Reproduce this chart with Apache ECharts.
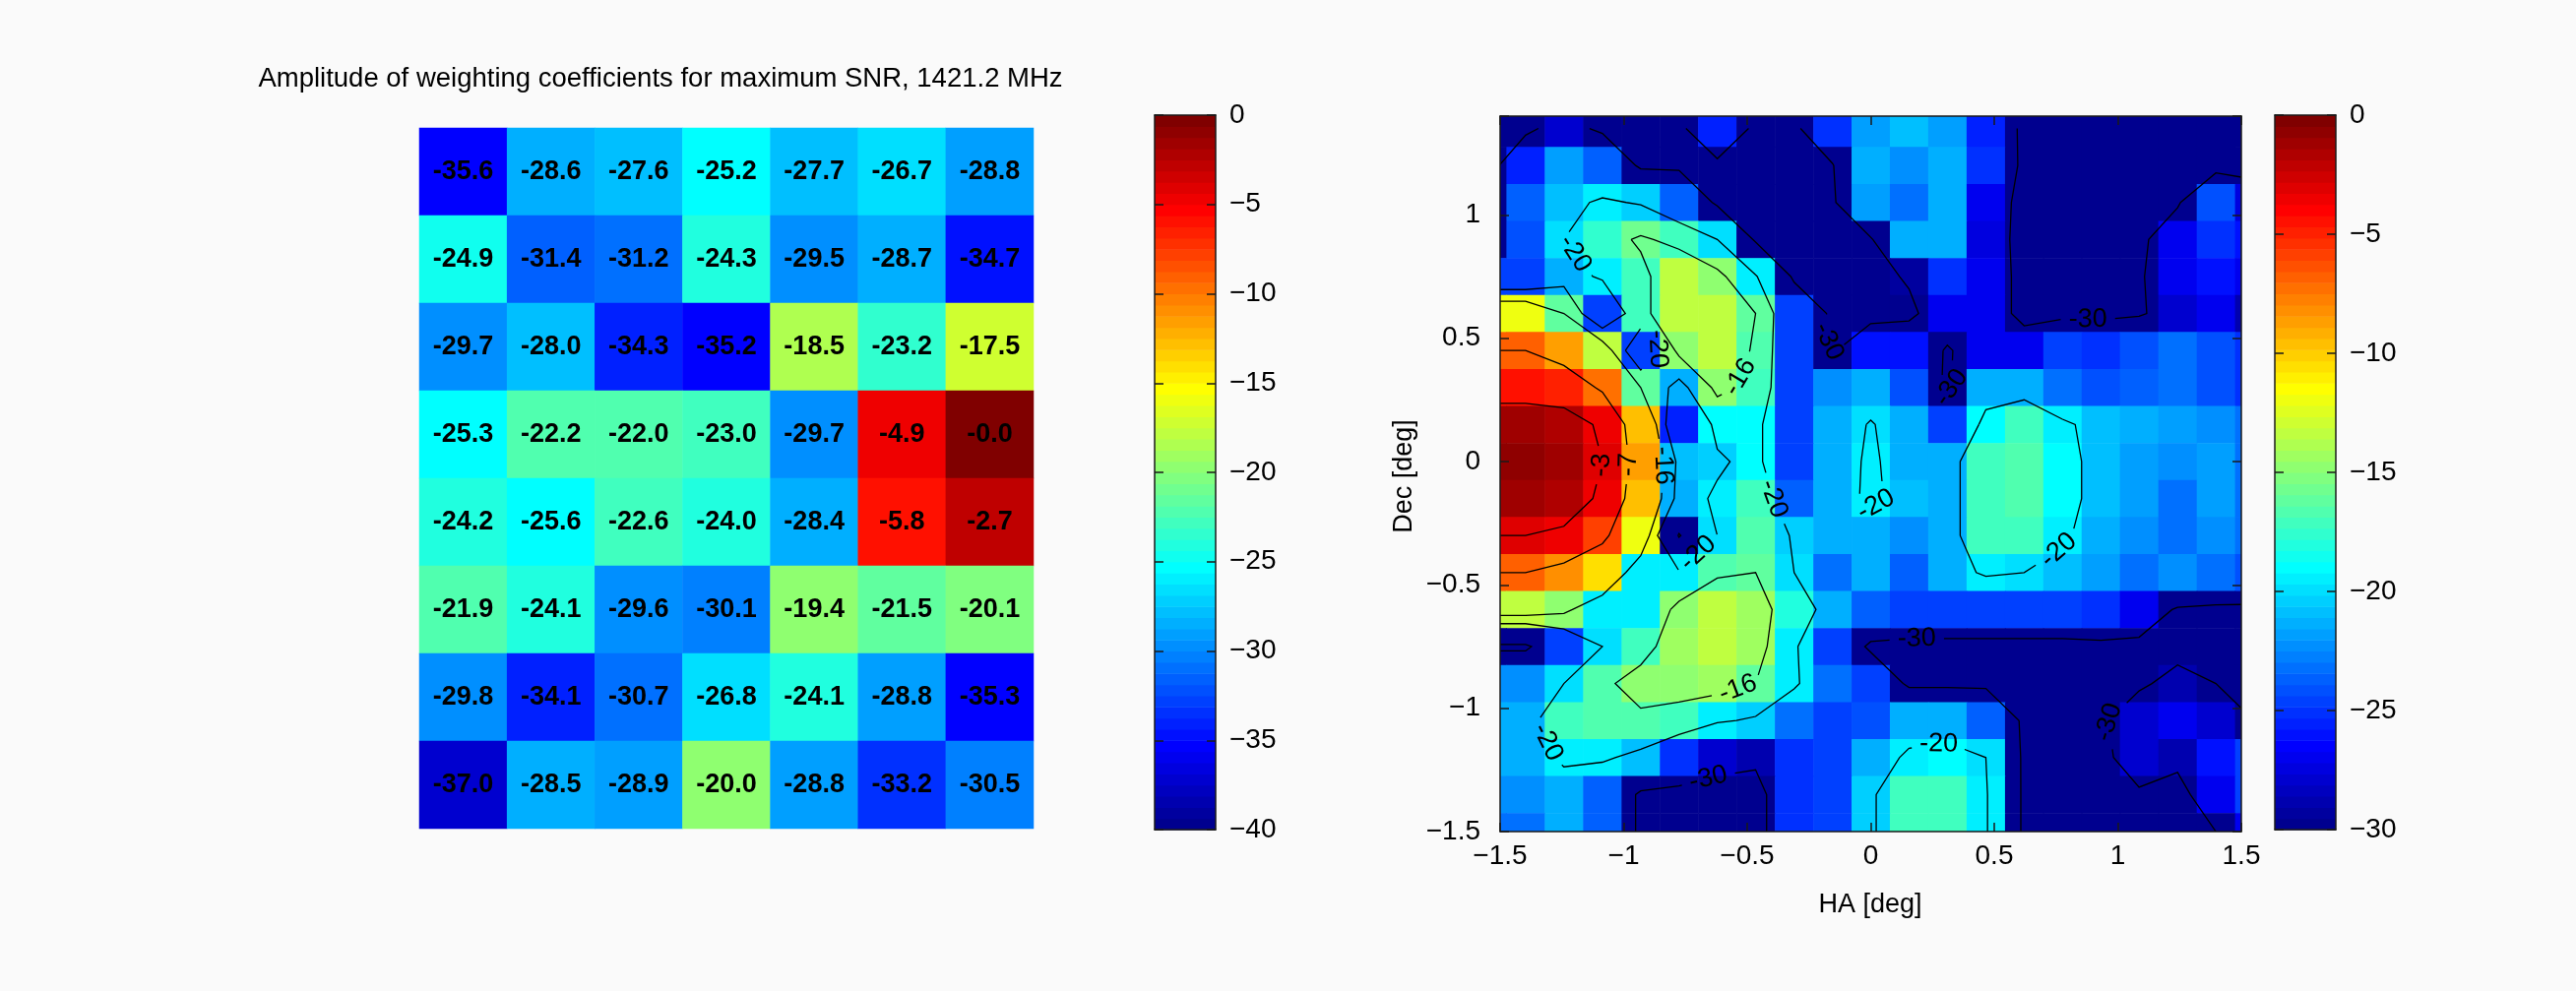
<!DOCTYPE html>
<html>
<head>
<meta charset="utf-8">
<title>Beam weights and beam pattern</title>
<script src="https://cdn.jsdelivr.net/npm/echarts@6/dist/echarts.min.js"></script>
<style>
html, body { margin: 0; padding: 0; background: #fafafa; }
#chart { width: 2617px; height: 1007px; }
</style>
</head>
<body>
<div id="chart"></div>
<script>
// Left panel: amplitude of the element weights in dB, top row first (8 rows x 7 columns)
const weightRows = [
  [-35.6, -28.6, -27.6, -25.2, -27.7, -26.7, -28.8],
  [-24.9, -31.4, -31.2, -24.3, -29.5, -28.7, -34.7],
  [-29.7, -28.0, -34.3, -35.2, -18.5, -23.2, -17.5],
  [-25.3, -22.2, -22.0, -23.0, -29.7, -4.9, -0.0],
  [-24.2, -25.6, -22.6, -24.0, -28.4, -5.8, -2.7],
  [-21.9, -24.1, -29.6, -30.1, -19.4, -21.5, -20.1],
  [-29.8, -34.1, -30.7, -26.8, -24.1, -28.8, -35.3],
  [-37.0, -28.5, -28.9, -20.0, -28.8, -33.2, -30.5]
];
const weightRange = [-40, 0];

// Right panel: beam response in dB on an HA x Dec grid (cell centres, degrees)
const haDeg = [-1.552, -1.397, -1.242, -1.086, -0.931, -0.776, -0.621, -0.466, -0.310, -0.155, 0,
               0.155, 0.310, 0.466, 0.621, 0.776, 0.931, 1.086, 1.242, 1.397, 1.552];
const decDeg = [1.35, 1.2, 1.05, 0.9, 0.75, 0.6, 0.45, 0.3, 0.15, 0, -0.15, -0.3, -0.45, -0.6, -0.75,
                -0.9, -1.05, -1.2, -1.35, -1.5];
// one row per Dec value (top to bottom), one entry per HA value (left to right)
const beamDb = [
  [-32, -31, -28, -31, -31, -31, -25.5, -31, -31, -25, -22, -21, -22, -25.5, -31, -31, -31, -32, -31.5, -31.5, -31.5],
  [-32, -25.5, -22, -23.5, -31, -31, -31, -31, -31.5, -30.3, -21.5, -22.5, -21.5, -25, -31, -31, -31, -31.5, -31.5, -31.5, -31.5],
  [-32, -23.5, -21, -19.5, -20.3, -23.5, -31, -31.5, -32, -30.8, -22, -23, -21.5, -27, -31.5, -31, -31, -31.5, -30.5, -24, -27.5],
  [-31.5, -24, -20, -17.5, -15.5, -17, -20, -30.8, -32, -32, -30.5, -21.5, -21.5, -27.5, -31.5, -31, -30.5, -31, -27, -25, -26],
  [-24.5, -24.5, -21.5, -19.5, -17, -13.2, -15, -19.5, -31, -31.5, -31.5, -29.5, -25, -27, -31.5, -31, -30.5, -30.5, -27, -26, -27],
  [-11.8, -11.8, -16, -24.5, -17, -13.2, -13.2, -16, -24.5, -31, -31.5, -31, -27, -27, -31.5, -31, -31, -30.5, -28, -27, -29],
  [-7, -7, -8.5, -13.2, -24.5, -15, -13.2, -16.5, -24.5, -30.5, -26, -26, -30.5, -27, -27, -24.5, -25, -24, -23, -24, -25],
  [-4.5, -4.5, -4.8, -7.5, -16, -21.5, -15, -17, -24.5, -22.5, -21.5, -24, -31, -21.5, -21.5, -23, -24, -23.5, -23, -24, -25],
  [-1, -1, -1.5, -3.5, -9.5, -25.5, -19, -19, -24.5, -21.5, -19.8, -21.5, -24.5, -19, -17, -19.5, -21, -21.5, -22, -22.5, -23],
  [-0.5, -0.5, -1, -3, -8.8, -21, -20.5, -19, -24.5, -21.5, -19.5, -21.5, -21.5, -17, -16.8, -19, -21, -22, -22.5, -22, -23],
  [-1, -1, -1.5, -3.5, -9.5, -21.5, -19.5, -17, -23.5, -21.2, -19.5, -21, -21.5, -17, -16.5, -19, -21, -22, -23, -22, -23],
  [-3, -3, -3.5, -6, -11.8, -30.5, -20, -16.5, -20.5, -21.5, -21.2, -22.5, -21.5, -17, -17, -19.5, -21.5, -22.5, -23, -22.5, -23],
  [-7, -7, -8.2, -10.5, -19.5, -19.5, -16.5, -16, -20, -23, -21.5, -23.5, -21.5, -19.5, -20, -21, -22, -23, -22.5, -23, -24],
  [-13.2, -13.2, -15, -19.5, -19.5, -15, -13.2, -14.5, -18, -21.5, -23.5, -24.5, -24.5, -24.5, -24.5, -24.5, -25, -27, -30.5, -31, -31],
  [-31, -31, -24.5, -20, -17, -14.5, -13.2, -14.5, -19.5, -24.5, -31, -31.5, -31.5, -31.5, -31.5, -31.5, -31, -31, -31, -31, -31],
  [-22.5, -22.5, -20, -16.5, -15, -15, -14.5, -16, -19.5, -23, -24.5, -31, -31, -31, -31, -31, -31, -30.5, -29, -30, -31],
  [-21.5, -21.5, -17, -16.5, -16.5, -17, -19.5, -20.5, -23, -24.5, -24, -21.5, -21.5, -23.5, -31, -31, -30.5, -28, -27, -28, -30],
  [-21.5, -21.5, -19.5, -19.5, -21, -25, -28, -29, -25, -24.5, -21.5, -19.5, -19, -20, -31, -31, -31, -28, -29, -26, -24.5],
  [-22.5, -22.5, -21.5, -23.5, -31, -31.5, -32, -32, -25, -24.5, -20.5, -17, -17, -19.5, -31, -31, -31, -30.5, -31.5, -27, -24.5],
  [-23, -23, -21.5, -23.5, -31, -31.5, -32, -32, -25, -24.5, -20.5, -17, -17, -19.5, -31, -31, -31, -31, -32, -30, -27]
];
const beamRange = [-30, 0];
const contourLevels = [-30, -20, -16, -7, -3];
const haLimits = [-1.5, 1.5];
const decLimits = [-1.5, 1.4];

const FONT = '"Liberation Sans", Arial, Helvetica, sans-serif';
const MINUS = '\u2212';

// MATLAB-style jet colormap with 64 entries
function makeJet(m) {
  const n = Math.ceil(m / 4);
  const u = [];
  for (let i = 1; i <= n; i++) u.push(i / n);
  for (let i = 1; i < n; i++) u.push(1);
  for (let i = n; i >= 1; i--) u.push(i / n);
  const g0 = Math.ceil(n / 2) - (m % 4 === 1 ? 1 : 0);
  const cols = Array.from({ length: m }, () => [0, 0, 0]);
  for (let k = 0; k < u.length; k++) {
    const g = g0 + k + 1, r = g + n, b = g - n;
    if (r >= 1 && r <= m) cols[r - 1][0] = u[k];
    if (g >= 1 && g <= m) cols[g - 1][1] = u[k];
    if (b >= 1 && b <= m) cols[b - 1][2] = u[k];
  }
  return cols.map(c => 'rgb(' + c.map(v => Math.round(v * 255)).join(',') + ')');
}
const JET = makeJet(64);
function jetIndex(v, range) {
  const i = Math.floor((v - range[0]) / (range[1] - range[0]) * JET.length);
  return Math.max(0, Math.min(JET.length - 1, i));
}

// cell edges from the centre coordinates
function edgesOf(centres) {
  const e = [];
  for (let i = 0; i <= centres.length; i++) {
    if (i === 0) e.push(centres[0] - (centres[1] - centres[0]) / 2);
    else if (i === centres.length) e.push(centres[i - 1] + (centres[i - 1] - centres[i - 2]) / 2);
    else e.push((centres[i - 1] + centres[i]) / 2);
  }
  return e;
}
const haEdges = edgesOf(haDeg);
const decEdges = edgesOf(decDeg);

// marching squares on the beam grid, joined into polylines
function contourPaths(z, xs, ys, level) {
  const R = z.length, C = z[0].length;
  const pts = {};
  const segs = [];
  function ep(id, r1, c1, r2, c2) {
    if (!pts[id]) {
      const a = z[r1][c1], b = z[r2][c2];
      const t = (level - a) / (b - a);
      pts[id] = [xs[c1] + (xs[c2] - xs[c1]) * t, ys[r1] + (ys[r2] - ys[r1]) * t];
    }
    return id;
  }
  for (let r = 0; r < R - 1; r++) {
    for (let c = 0; c < C - 1; c++) {
      const tl = z[r][c], tr = z[r][c + 1], br = z[r + 1][c + 1], bl = z[r + 1][c];
      const idx = (tl > level ? 8 : 0) | (tr > level ? 4 : 0) | (br > level ? 2 : 0) | (bl > level ? 1 : 0);
      if (idx === 0 || idx === 15) continue;
      const T = () => ep('h' + r + '_' + c, r, c, r, c + 1);
      const Rt = () => ep('v' + r + '_' + (c + 1), r, c + 1, r + 1, c + 1);
      const B = () => ep('h' + (r + 1) + '_' + c, r + 1, c, r + 1, c + 1);
      const L = () => ep('v' + r + '_' + c, r, c, r + 1, c);
      const centreHigh = (tl + tr + br + bl) / 4 > level;
      switch (idx) {
        case 1: case 14: segs.push([L(), B()]); break;
        case 2: case 13: segs.push([B(), Rt()]); break;
        case 3: case 12: segs.push([L(), Rt()]); break;
        case 4: case 11: segs.push([T(), Rt()]); break;
        case 6: case 9: segs.push([T(), B()]); break;
        case 7: case 8: segs.push([L(), T()]); break;
        case 5:
          if (centreHigh) { segs.push([L(), T()]); segs.push([B(), Rt()]); }
          else { segs.push([T(), Rt()]); segs.push([L(), B()]); }
          break;
        case 10:
          if (centreHigh) { segs.push([T(), Rt()]); segs.push([L(), B()]); }
          else { segs.push([L(), T()]); segs.push([B(), Rt()]); }
          break;
      }
    }
  }
  const adj = {};
  segs.forEach((s, i) => { s.forEach(id => { (adj[id] = adj[id] || []).push(i); }); });
  const used = new Array(segs.length).fill(false);
  const lines = [];
  function walk(startSeg, startId) {
    const ids = [startId];
    let seg = startSeg, cur = startId;
    while (seg !== -1 && !used[seg]) {
      used[seg] = true;
      const nxt = segs[seg][0] === cur ? segs[seg][1] : segs[seg][0];
      ids.push(nxt);
      cur = nxt;
      const cand = (adj[cur] || []).filter(i => !used[i]);
      seg = cand.length ? cand[0] : -1;
    }
    return ids;
  }
  // open lines start at an end point, closed loops anywhere
  Object.keys(adj).forEach(id => {
    if (adj[id].length === 1 && !used[adj[id][0]]) lines.push(walk(adj[id][0], id));
  });
  segs.forEach((s, i) => { if (!used[i]) lines.push(walk(i, s[0])); });
  return lines.map(ids => ids.map(id => pts[id]));
}

const contours = [];
contourLevels.forEach(lv => {
  contourPaths(beamDb, haDeg, decDeg, lv).forEach(p => contours.push({ level: lv, pts: p }));
});

// layout of the four plotting areas
const grids = [
  { left: 426, top: 130, width: 624, height: 712 },   // element weights
  { left: 1173, top: 117, width: 62, height: 726 },   // weights colour bar
  { left: 1524, top: 118, width: 753, height: 727 },  // beam map
  { left: 2311, top: 117, width: 62, height: 726 }    // beam colour bar
];

function signed(v) {
  return String(v).replace('-', MINUS);
}

const AX_COL = '#1a1a1a';
const boxLine = { onZero: false, lineStyle: { color: AX_COL, width: 1.5 } };
const inTick = { inside: true, length: 9, lineStyle: { color: AX_COL, width: 1.5 } };

function barAxes(gi, range) {
  return {
    x: [
      { gridIndex: gi, type: 'value', min: 0, max: 1, position: 'bottom', z: 10,
        axisLine: boxLine, axisTick: { show: false }, axisLabel: { show: false }, splitLine: { show: false } },
      { gridIndex: gi, type: 'value', min: 0, max: 1, position: 'top', z: 10,
        axisLine: boxLine, axisTick: { show: false }, axisLabel: { show: false }, splitLine: { show: false } }
    ],
    y: [
      { gridIndex: gi, type: 'value', min: range[0], max: range[1], interval: 5, position: 'right', z: 10,
        axisLine: boxLine, axisTick: inTick,
        axisLabel: { margin: 14, color: '#000', fontSize: 28, fontFamily: FONT, formatter: v => signed(v) },
        splitLine: { show: false } },
      { gridIndex: gi, type: 'value', min: range[0], max: range[1], interval: 5, position: 'left', z: 10,
        axisLine: boxLine, axisTick: inTick, axisLabel: { show: false }, splitLine: { show: false } }
    ]
  };
}
const bar1 = barAxes(1, weightRange);
const bar2 = barAxes(3, beamRange);

function tickText(v) {
  if (Math.abs(v * 2 - Math.round(v * 2)) > 1e-6) return '';
  return signed(v);
}

const xAxes = [
  { gridIndex: 0, type: 'category', data: weightRows[0].map((_, i) => i), show: false },
  bar1.x[0], bar1.x[1],
  { gridIndex: 2, type: 'value', min: haLimits[0], max: haLimits[1], interval: 0.5, position: 'bottom', z: 10,
    axisLine: boxLine, axisTick: inTick, splitLine: { show: false },
    axisLabel: { margin: 11, color: '#000', fontSize: 28, fontFamily: FONT, formatter: tickText } },
  { gridIndex: 2, type: 'value', min: haLimits[0], max: haLimits[1], interval: 0.5, position: 'top', z: 10,
    axisLine: boxLine, axisTick: inTick, splitLine: { show: false }, axisLabel: { show: false } },
  bar2.x[0], bar2.x[1]
];
const yAxes = [
  { gridIndex: 0, type: 'category', data: weightRows.map((_, i) => i), inverse: true, show: false },
  bar1.y[0], bar1.y[1],
  { gridIndex: 2, type: 'value', min: decLimits[0], max: decLimits[1], interval: 0.5, position: 'left', z: 10,
    axisLine: boxLine, axisTick: inTick, splitLine: { show: false },
    axisLabel: { margin: 20, color: '#000', fontSize: 28, fontFamily: FONT, formatter: tickText } },
  { gridIndex: 2, type: 'value', min: decLimits[0], max: decLimits[1], interval: 0.5, position: 'right', z: 10,
    axisLine: boxLine, axisTick: inTick, splitLine: { show: false }, axisLabel: { show: false } },
  bar2.y[0], bar2.y[1]
];

// heatmap cells for the weights
const weightData = [];
weightRows.forEach((row, r) => row.forEach((v, c) => weightData.push([c, r, v])));

// beam cells
const beamData = [];
beamDb.forEach((row, r) => row.forEach((v, c) => beamData.push([haDeg[c], decDeg[r], v, c, r])));

function colourBarData(range) {
  const out = [];
  const step = (range[1] - range[0]) / JET.length;
  for (let i = 0; i < JET.length; i++) {
    const lo = range[0] + i * step;
    out.push([0.5, lo + step / 2, i, lo, lo + step]);
  }
  return out;
}
function renderBar(params, api) {
  const i = api.value(2);
  const p0 = api.coord([0, api.value(3)]);
  const p1 = api.coord([1, api.value(4)]);
  return {
    type: 'rect',
    shape: { x: p0[0], y: p1[1], width: p1[0] - p0[0], height: p0[1] - p1[1] + 0.6 },
    style: { fill: JET[i] }
  };
}

function clampTo(v, lim) { return Math.max(lim[0], Math.min(lim[1], v)); }
function renderBeamCell(params, api) {
  const c = api.value(3), r = api.value(4), v = api.value(2);
  const x0 = clampTo(haEdges[c], haLimits), x1 = clampTo(haEdges[c + 1], haLimits);
  const yA = clampTo(decEdges[r], decLimits), yB = clampTo(decEdges[r + 1], decLimits);
  const pA = api.coord([x0, yA]);
  const pB = api.coord([x1, yB]);
  const x = Math.min(pA[0], pB[0]), y = Math.min(pA[1], pB[1]);
  return {
    type: 'rect',
    shape: { x: x, y: y, width: Math.abs(pB[0] - pA[0]) + 0.6, height: Math.abs(pB[1] - pA[1]) + 0.6 },
    style: { fill: JET[jetIndex(v, beamRange)] }
  };
}

const LABEL_SIZE = 27;
function renderContour(params, api) {
  const item = contours[api.value(2)];
  const pts = item.pts.map(p => api.coord(p));
  const lo = api.coord([haLimits[0], decLimits[0]]);
  const hi = api.coord([haLimits[1], decLimits[1]]);
  const cum = [0];
  for (let i = 1; i < pts.length; i++) {
    cum.push(cum[i - 1] + Math.hypot(pts[i][0] - pts[i - 1][0], pts[i][1] - pts[i - 1][1]));
  }
  const L = cum[cum.length - 1];
  function at(s) {
    s = Math.max(0, Math.min(L, s));
    let i = 1;
    while (i < cum.length - 1 && cum[i] < s) i++;
    const seg = cum[i] - cum[i - 1] || 1;
    const t = (s - cum[i - 1]) / seg;
    return [pts[i - 1][0] + (pts[i][0] - pts[i - 1][0]) * t, pts[i - 1][1] + (pts[i][1] - pts[i - 1][1]) * t];
  }
  const text = String(item.level);
  const tw = text.length * LABEL_SIZE * 0.56;
  const inside = p => p[0] > lo[0] + tw / 2 && p[0] < hi[0] - tw / 2 && p[1] > hi[1] + tw / 2 && p[1] < lo[1] - tw / 2;
  const labels = [];
  if (L > tw * 2.3) {
    const n = Math.max(1, Math.floor(L / 380));
    for (let k = 0; k < n; k++) {
      let s = (k + 0.5) * L / n;
      // slide along the line until the label sits inside the plot
      let ok = inside(at(s));
      for (let d = 10; !ok && d < L / (2 * n); d += 10) {
        if (inside(at(s + d))) { s += d; ok = true; }
        else if (inside(at(s - d))) { s -= d; ok = true; }
      }
      if (ok) labels.push(s);
    }
  }
  const gaps = labels.map(s => [s - tw / 2 - 5, s + tw / 2 + 5]).sort((a, b) => a[0] - b[0]);
  const visible = [];
  let start = 0;
  gaps.forEach(g => { if (g[0] > start) visible.push([start, g[0]]); start = Math.max(start, g[1]); });
  if (start < L) visible.push([start, L]);
  const children = [];
  visible.forEach(([a, b]) => {
    const line = [at(a)];
    for (let i = 0; i < cum.length; i++) if (cum[i] > a && cum[i] < b) line.push(pts[i]);
    line.push(at(b));
    children.push({ type: 'polyline', shape: { points: line }, style: { stroke: '#000', lineWidth: 1.3, fill: null } });
  });
  labels.forEach(s => {
    const p = at(s);
    const q0 = at(s - tw / 2), q1 = at(s + tw / 2);
    let ang = Math.atan2(q1[1] - q0[1], q1[0] - q0[0]);
    if (ang > Math.PI / 2) ang -= Math.PI;
    if (ang < -Math.PI / 2) ang += Math.PI;
    children.push({
      type: 'text', x: p[0], y: p[1], rotation: -ang,
      style: { text: text, fill: '#000', fontSize: LABEL_SIZE, fontFamily: FONT, align: 'center', verticalAlign: 'middle' }
    });
  });
  return { type: 'group', children: children };
}

const chart = echarts.init(document.getElementById('chart'), null, { renderer: 'canvas', width: 2617, height: 1007 });

const weightPieces = JET.map((col, i) => {
  const step = (weightRange[1] - weightRange[0]) / JET.length;
  const piece = { color: col };
  if (i > 0) piece.gte = weightRange[0] + i * step;
  if (i < JET.length - 1) piece.lt = weightRange[0] + (i + 1) * step;
  return piece;
});

chart.setOption({
  animation: false,
  backgroundColor: '#fafafa',
  textStyle: { fontFamily: FONT },
  grid: grids,
  xAxis: xAxes,
  yAxis: yAxes,
  visualMap: [{ type: 'piecewise', show: false, seriesIndex: 0, dimension: 2, pieces: weightPieces }],
  graphic: [
    { type: 'text', x: 671, y: 80, style: { text: 'Amplitude of weighting coefficients for maximum SNR, 1421.2 MHz',
      fontSize: 27.5, fontFamily: FONT, fill: '#000', align: 'center', verticalAlign: 'middle' } },
    { type: 'text', x: 1427, y: 484, rotation: Math.PI / 2, style: { text: 'Dec [deg]',
      fontSize: 27, fontFamily: FONT, fill: '#000', align: 'center', verticalAlign: 'middle' } },
    { type: 'text', x: 1900, y: 920, style: { text: 'HA [deg]',
      fontSize: 27, fontFamily: FONT, fill: '#000', align: 'center', verticalAlign: 'middle' } }
  ],
  series: [
    {
      type: 'heatmap', xAxisIndex: 0, yAxisIndex: 0, data: weightData,
      itemStyle: { borderWidth: 0 },
      label: { show: true, color: '#000', fontSize: 27, fontWeight: 'bold', fontFamily: FONT,
        formatter: p => '-' + Math.abs(p.value[2]).toFixed(1) },
      emphasis: { disabled: true }
    },
    {
      type: 'custom', xAxisIndex: 1, yAxisIndex: 1, data: colourBarData(weightRange),
      renderItem: renderBar, silent: true
    },
    {
      type: 'custom', xAxisIndex: 3, yAxisIndex: 3, data: beamData, clip: true,
      encode: { x: 0, y: 1 }, renderItem: renderBeamCell, silent: true
    },
    {
      type: 'custom', xAxisIndex: 3, yAxisIndex: 3, clip: true, z: 3,
      data: contours.map((c, i) => [c.pts[0][0], c.pts[0][1], i]),
      encode: { x: 0, y: 1 }, renderItem: renderContour, silent: true
    },
    {
      type: 'custom', xAxisIndex: 5, yAxisIndex: 5, data: colourBarData(beamRange),
      renderItem: renderBar, silent: true
    }
  ]
});
</script>
</body>
</html>
